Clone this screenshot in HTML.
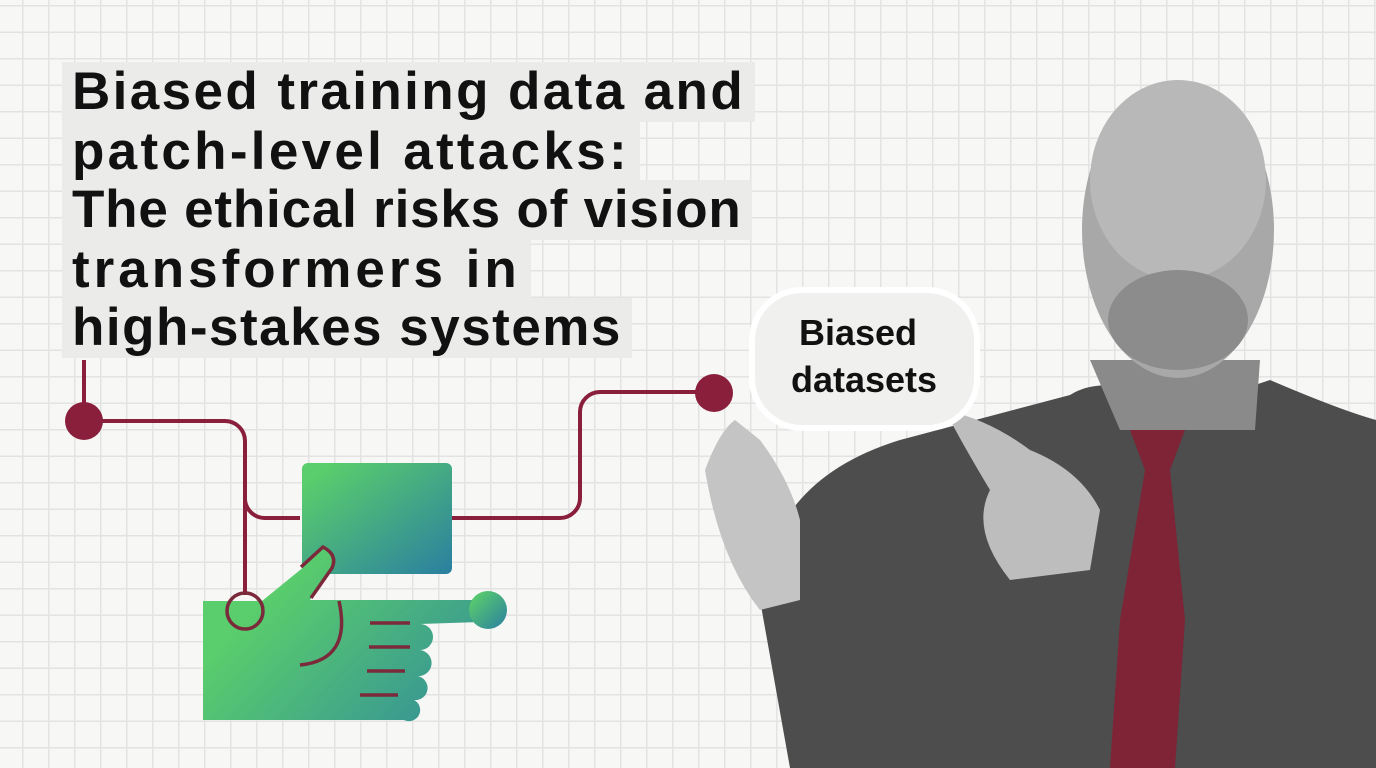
<!DOCTYPE html>
<html><head><style>
body{margin:0;width:1376px;height:768px;overflow:hidden;background:#f7f7f6;position:relative;font-family:"Liberation Sans",sans-serif;
background-image:linear-gradient(#e3e3e3 1.5px,transparent 1.5px),linear-gradient(90deg,#e3e3e3 1.5px,transparent 1.5px);
background-size:26px 26.5px;background-position:22px 5px;}
.t{position:absolute;left:62px;background:#ebebea;font-weight:bold;font-size:53px;letter-spacing:2.4px;color:#111;padding:0 10px;line-height:60px;white-space:nowrap}
svg{position:absolute;left:0;top:0}
</style></head><body>
<div class="t" style="top:62px">Biased training data and</div>
<div class="t" style="top:122px;letter-spacing:3.3px">patch-level attacks:</div>
<div class="t" style="top:180px;letter-spacing:0.8px">The ethical risks of vision</div>
<div class="t" style="top:240px;letter-spacing:4px">transformers in</div>
<div class="t" style="top:298px;letter-spacing:1.5px">high-stakes systems</div>
<svg width="1376" height="768">
<defs>
<linearGradient id="g" x1="0" y1="0" x2="1" y2="1"><stop offset="0.1" stop-color="#5acd6c"/><stop offset="1" stop-color="#2a7fa0"/></linearGradient>
<linearGradient id="g2" x1="0" y1="0" x2="1" y2="0.6"><stop offset="0.3" stop-color="#5acd6c"/><stop offset="1" stop-color="#3a9a90"/></linearGradient>
</defs>
<g stroke="#8a1f3c" stroke-width="4" fill="none">
<path d="M84 360 V420"/>
<path d="M84 421 H225 a20 20 0 0 1 20 20 V595"/>
<path d="M245 500 a20 20 0 0 0 20 18 H300"/>
<path d="M450 518 H560 a20 20 0 0 0 20 -20 V412 a20 20 0 0 1 20 -20 H712"/>
</g>
<circle cx="84" cy="421" r="19" fill="#8a1f3c"/>
<circle cx="714" cy="393" r="19" fill="#8a1f3c"/>
<rect x="302" y="463" width="150" height="111" rx="6" fill="url(#g)"/>
<path d="M203 601 H262 L305 566 L325 547 L335 560 L310 600 H480 V622 L420 624 a10 10 0 0 1 0 26 a10 10 0 0 1 -3 26 a10 10 0 0 1 -3 24 a10 10 0 0 1 -10 20 H203 Z" fill="url(#g2)"/>
<circle cx="488" cy="610" r="19" fill="url(#g)"/>
<g stroke="#7a2a3a" stroke-width="3.5" fill="none">
<circle cx="245" cy="611" r="18"/>
<path d="M301 567 L323 547 Q338 555 332 568 L311 598"/>
<path d="M339 601 Q352 660 300 665"/>
<path d="M370 623 H410 M369 647 H410 M367 671 H405 M360 695 H398"/>
</g>
<path d="M760 600 Q770 480 900 440 L1070 395 Q1110 370 1180 410 L1270 380 Q1340 410 1376 420 V768 H790 Z" fill="#4d4d4d"/>
<path d="M1130 430 L1185 430 L1170 470 L1185 620 L1175 768 H1110 L1120 620 L1145 470 Z" fill="#7e2436"/>
<path d="M1090 360 L1260 360 L1255 430 L1120 430 Z" fill="#8a8a8a"/>
<ellipse cx="1178" cy="230" rx="96" ry="148" fill="#a8a8a8"/>
<ellipse cx="1178" cy="180" rx="88" ry="100" fill="#b8b8b8"/>
<ellipse cx="1178" cy="320" rx="70" ry="50" fill="#8c8c8c"/>
<path d="M705 470 Q720 430 735 420 L760 440 Q790 480 800 520 L800 600 L760 610 Q720 560 705 470Z" fill="#c4c4c4"/>
<path d="M945 410 Q990 420 1030 450 Q1080 470 1100 510 L1090 570 L1010 580 Q970 530 990 490 Q960 440 945 410Z" fill="#bdbdbd"/>
<rect x="752" y="290" width="225" height="138" rx="50" fill="#f0f0ee" stroke="#fff" stroke-width="6"/>
<text x="858" y="345" font-family="Liberation Sans" font-weight="bold" font-size="36" text-anchor="middle" fill="#111">Biased</text>
<text x="864" y="392" font-family="Liberation Sans" font-weight="bold" font-size="36" text-anchor="middle" fill="#111">datasets</text>
</svg>
</body></html>
